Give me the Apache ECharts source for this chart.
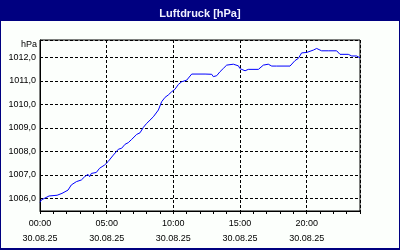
<!DOCTYPE html>
<html>
<head>
<meta charset="utf-8">
<script src="https://cdn.jsdelivr.net/npm/echarts@6/dist/echarts.min.js"></script>
<style>
html,body{margin:0;padding:0;background:#000080;}
#c{width:400px;height:250px;}
</style>
</head>
<body>
<div id="c"></div>
<script>
var chartTitle = 'Luftdruck [hPa]';
var unitLabel = 'hPa';
var dateLabel = '30.08.25';
var hours = [0.0,0.1,0.68,1.28,1.65,1.8,2.1,2.35,2.73,3.1,3.35,3.6,3.72,3.85,4.22,4.47,4.85,5.1,5.5,5.88,6.12,6.38,6.62,6.88,7.25,7.5,7.75,8.0,8.25,8.5,8.88,9.12,9.38,9.62,9.88,10.12,10.38,10.62,11.0,11.38,12.0,12.12,12.38,12.88,13.0,13.25,13.5,13.75,14.0,14.5,14.88,15.0,15.38,15.62,16.38,16.75,17.12,17.38,17.75,17.88,18.0,18.75,19.12,19.38,19.62,20.0,20.12,20.5,20.75,21.12,21.62,21.75,22.25,22.5,23.12,23.38,23.75,23.88,24.0];
var pressure = [1005.83,1005.93,1006.10,1006.13,1006.21,1006.24,1006.35,1006.57,1006.71,1006.78,1006.92,1007.02,1006.92,1007.06,1007.10,1007.28,1007.42,1007.56,1007.84,1008.09,1008.13,1008.30,1008.37,1008.51,1008.72,1008.79,1009.02,1009.19,1009.33,1009.47,1009.76,1010.11,1010.30,1010.40,1010.54,1010.64,1010.85,1010.96,1011.03,1011.29,1011.29,1011.37,1011.29,1011.28,1011.18,1011.22,1011.39,1011.53,1011.67,1011.71,1011.64,1011.52,1011.43,1011.49,1011.49,1011.67,1011.71,1011.63,1011.63,1011.71,1011.63,1011.63,1011.86,1011.96,1012.19,1012.21,1012.28,1012.31,1012.38,1012.28,1012.28,1012.35,1012.28,1012.13,1012.13,1012.06,1012.06,1011.98,1011.98];
var xMin = 0, xMax = 24, xMajor = 5, xMinor = 1;
var yMin = 1005.46, yMax = 1012.74;

var data = hours.map(function(h, i){ return [h, pressure[i]]; });
function pad(n){ return (n < 10 ? '0' : '') + n; }
var font = 'Liberation Sans';
var chart = echarts.init(document.getElementById('c'), null, {renderer:'canvas'});
chart.setOption({
  animation: false,
  backgroundColor: '#000080',
  title: {
    text: chartTitle, left: 'center', top: 3,
    textStyle: {color:'#F0F0FF', fontSize: 11, fontWeight:'bold', fontFamily: font}
  },
  graphic: [
    {type:'rect', shape:{x:1, y:21, width:398, height:227}, style:{fill:'#FCFFFC'}, z:-10, silent:true},
    {type:'text', x:37, y:45, style:{text:unitLabel, textAlign:'right', textVerticalAlign:'middle', fill:'#000', font:'9px "Liberation Sans"'}}
  ],
  grid: {left:40, right:40, top:40, bottom:39, show:true, borderColor:'#000', borderWidth:1, backgroundColor:'#FCFFFC'},
  xAxis: [{
    type:'value', min:xMin, max:xMax, interval:xMajor, position:'bottom',
    axisLine:{show:true, lineStyle:{color:'#000', width:1}},
    axisTick:{show:false},
    splitLine:{show:true, lineStyle:{color:'#000', type:[3,2], width:1}},
    axisLabel:{margin:5, color:'#000', fontSize:9, fontFamily:font, lineHeight:15,
      formatter:function(v){ if (v >= xMax) return ''; return pad(v)+':00\n'+dateLabel; }}
  },{
    type:'value', min:xMin, max:xMax, interval:xMinor, position:'bottom',
    axisLine:{show:false}, axisLabel:{show:false}, splitLine:{show:false},
    axisTick:{show:true, length:3, lineStyle:{color:'#000'}}
  }],
  yAxis: {
    type:'value', min:yMin, max:yMax, splitNumber:7,
    axisLine:{show:true, lineStyle:{color:'#000'}},
    axisTick:{show:false},
    splitLine:{show:true, lineStyle:{color:'#000', type:[3,2], width:1}},
    axisLabel:{margin:4, color:'#000', fontSize:9, fontFamily:font,
      formatter:function(v){ if (Math.abs(v-Math.round(v))>1e-6) return ''; return v.toFixed(1).replace('.',','); }}
  },
  series: [{
    type:'line', data:data, showSymbol:false, symbol:'none',
    lineStyle:{color:'#0000FF', width:1}, xAxisIndex:0
  }]
});
</script>
</body>
</html>
